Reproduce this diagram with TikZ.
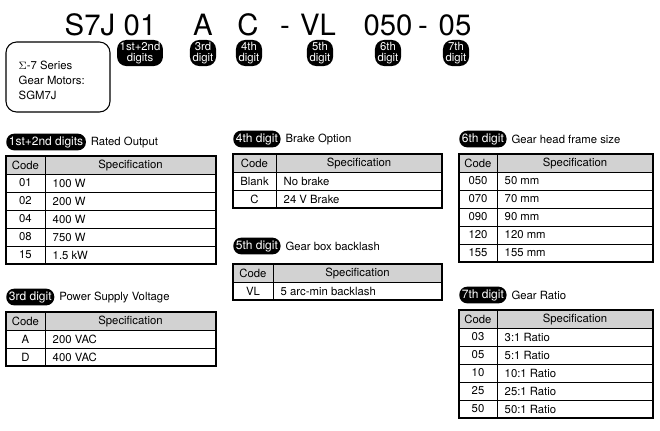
\documentclass[tikz,border=0pt]{standalone}
\usepackage{fontspec}
\setmainfont{TeX Gyre Heros}
\begin{document}
\begin{tikzpicture}[x=0.75pt,y=-0.75pt,
 pill/.style={fill=black,text=white,rounded corners=7pt,inner xsep=2pt,inner ysep=1.5pt,font=\fontsize{8.5}{8.5}\selectfont,align=center},
 lbl/.style={fill=black,text=white,rounded corners=6pt,inner xsep=2pt,inner ysep=2pt,font=\fontsize{9}{9}\selectfont},
 ttl/.style={font=\fontsize{8.5}{9}\selectfont,anchor=west},
 big/.style={font=\fontsize{22}{22}\selectfont},
 cell/.style={font=\fontsize{8.5}{9}\selectfont}]
\useasboundingbox (0,0) rectangle (660,430);
% title
\foreach \t/\x/\n in {S7J/90/t1,01/140/t2,A/203/t3,C/248/t4,-/285/t5,VL/318/t6,050/388/t7,-/423/t8,05/455/t9}
  \node[big,anchor=base] (\n) at (\x,35) {\t};
\node[pill] (p1) at (140,53) {1st+2nd\\digits};
\node[pill] (p2) at (203,53) {3rd\\digit};
\node[pill] (p3) at (249,53) {4th\\digit};
\node[pill] (p4) at (320,53) {5th\\digit};
\node[pill] (p5) at (388,53) {6th\\digit};
\node[pill] (p6) at (456,53) {7th\\digit};
\draw[line width=0.8pt,rounded corners=8pt] (6,42) rectangle (110,112);
\node[anchor=north west,align=left,font=\fontsize{8.5}{11.5}\selectfont] (series) at (14,56) {$\Sigma$-7 Series\\Gear Motors:\\SGM7J};
\newcommand\mytable[6]{%
  \fill[gray!35] (#1,#4) rectangle (#2,#4+18);
  \draw[line width=0.8pt] (#1,#4) rectangle (#2,#4+18*#5+18);
  \draw[line width=0.6pt] (#3,#4) -- (#3,#4+18*#5+18);
  \foreach \i in {1,...,#5} \draw[line width=0.6pt] (#1,#4+18*\i) -- (#2,#4+18*\i);
  \node[cell] at ({(#1+#3)/2},#4+9) {Code};
  \node[cell] at ({(#3+#2)/2},#4+9) {Specification};
  \foreach \c/\s [count=\k] in {#6} {
    \node[cell] at ({(#1+#3)/2},#4+18*\k+9) {\c};
    \node[cell,anchor=west] at (#3+3,#4+18*\k+9) {\s};}
}
\node[lbl,anchor=west] (l1) at (6,142) {1st+2nd digits};
\node[ttl] (d1) at (l1.east) {Rated Output};
\mytable{6}{216}{45}{156}{5}{01/100 W,02/200 W,04/400 W,08/750 W,15/1.5 kW}
\node[lbl,anchor=west] (l2) at (6,297) {3rd digit};
\node[ttl] (d2) at (l2.east) {Power Supply Voltage};
\mytable{6}{216}{45}{312}{2}{A/200 VAC,D/400 VAC}
\node[lbl,anchor=west] (l3) at (233,139) {4th digit};
\node[ttl] (d3) at (l3.east) {Brake Option};
\mytable{233}{442}{276}{154}{2}{Blank/No brake,C/24 V Brake}
\node[lbl,anchor=west] (l4) at (233,246) {5th digit};
\node[ttl] (d4) at (l4.east) {Gear box backlash};
\mytable{233}{442}{273}{264}{1}{VL/5 arc-min backlash}
\node[lbl,anchor=west] (l5) at (459,139) {6th digit};
\node[ttl] (d5) at (l5.east) {Gear head frame size};
\mytable{459}{653}{497}{154}{5}{050/50 mm,070/70 mm,090/90 mm,120/120 mm,155/155 mm}
\node[lbl,anchor=west] (l6) at (459,295) {7th digit};
\node[ttl] (d6) at (l6.east) {Gear Ratio};
\mytable{459}{653}{497}{310}{5}{03/3:1 Ratio,05/5:1 Ratio,10/10:1 Ratio,25/25:1 Ratio,50/50:1 Ratio}
\end{tikzpicture}
\end{document}
